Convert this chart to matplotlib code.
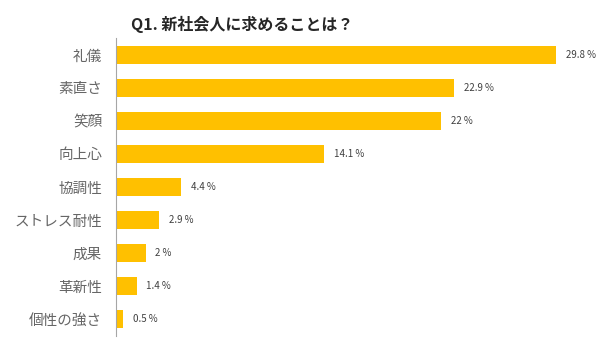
import matplotlib.pyplot as plt

plt.rcParams['font.family'] = ['Noto Sans CJK JP', 'DejaVu Sans']

categories = ['礼儀', '素直さ', '笑顔', '向上心', '協調性', 'ストレス耐性', '成果', '革新性', '個性の強さ']
values = [29.8, 22.9, 22, 14.1, 4.4, 2.9, 2, 1.4, 0.5]
value_labels = ['29.8 %', '22.9 %', '22 %', '14.1 %', '4.4 %', '2.9 %', '2 %', '1.4 %', '0.5 %']

fig = plt.figure(figsize=(6.14, 3.46), dpi=100)
ax = fig.add_axes([0.189, 0.030, 0.906 - 0.189, 0.859])

y = list(range(len(categories)))
ax.barh(y, values, height=0.55, color='#FFC000')
ax.set_xlim(0, 29.8)
ax.set_ylim(len(categories) - 0.5, -0.5)

for yi, v, lab in zip(y, values, value_labels):
    ax.annotate(lab, (v, yi), xytext=(7, 0), textcoords='offset points',
                va='center', ha='left', fontsize=7, color='#404040',
                annotation_clip=False)

ax.set_yticks(y)
ax.set_yticklabels(categories, fontsize=10.5, color='#666666')
ax.tick_params(axis='y', length=0, pad=10)
ax.set_xticks([])
for s in ['top', 'right', 'bottom']:
    ax.spines[s].set_visible(False)
ax.spines['left'].set_color('#A6A6A6')
ax.spines['left'].set_linewidth(0.8)

fig.text(0.395, 0.93, 'Q1. 新社会人に求めることは？', ha='center', va='center',
         fontsize=11.5, fontweight='bold', color='#262626')

fig.savefig('out.png', dpi=100)
